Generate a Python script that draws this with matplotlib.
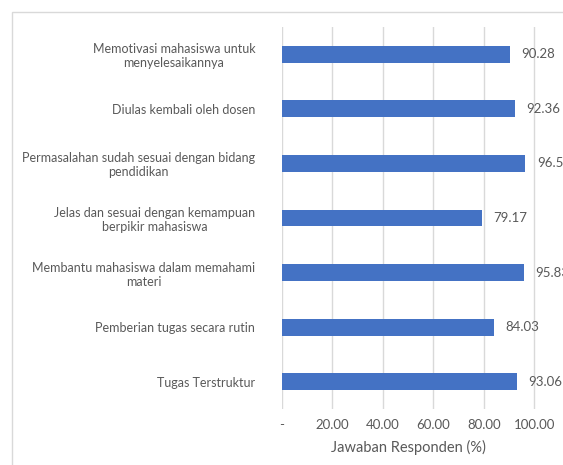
import matplotlib
matplotlib.use("Agg")
import matplotlib.pyplot as plt
from matplotlib.patches import Rectangle

categories = [
    "Memotivasi mahasiswa untuk\nmenyelesaikannya",
    "Diulas kembali oleh dosen",
    "Permasalahan sudah sesuai dengan bidang\npendidikan",
    "Jelas dan sesuai dengan kemampuan\nberpikir mahasiswa",
    "Membantu mahasiswa dalam memahami\nmateri",
    "Pemberian tugas secara rutin",
    "Tugas Terstruktur",
]
values = [90.28, 92.36, 96.53, 79.17, 95.83, 84.03, 93.06]
value_labels = ["90.28", "92.36", "96.53", "79.17", "95.83", "84.03", "93.06"]
tick_values = [0, 20, 40, 60, 80, 100]
tick_labels = ["-", "20.00", "40.00", "60.00", "80.00", "100.00"]
xlabel = "Jawaban Responden (%)"

plt.rcParams['font.family'] = ['Lato', 'DejaVu Sans']
W, H = 563, 465
fig = plt.figure(figsize=(W / 100, H / 100), dpi=100)

# chart frame
fig.patches.append(Rectangle((11.5 / W, -0.1), 1.2, (H - 12.5) / H + 0.1,
                             transform=fig.transFigure, fill=False,
                             edgecolor="#d9d9d9", linewidth=1.0))

left = 281.7 / W
ppu = 2.525
right_px = 281.7 + 120 * ppu
bottom = (H - 409) / H
top = (H - 27) / H
ax = fig.add_axes([left, bottom, (right_px - 281.7) / W, top - bottom])

n = len(categories)
ypos = list(range(n))
ax.barh(ypos, values, height=0.31, color="#4472C4", zorder=3)
ax.set_ylim(n - 0.5, -0.5)
ax.set_xlim(0, 120)
ax.set_yticks(ypos)
ax.set_yticklabels(categories, fontsize=9, color="#595959", multialignment="center")
ax.tick_params(axis="y", length=0, pad=19)
ax.set_xticks(tick_values)
ax.set_xticklabels(tick_labels, fontsize=9.5, color="#595959")
ax.tick_params(axis="x", length=0, pad=7)
ax.set_xticks([120], minor=True)
ax.grid(axis="x", which="both", color="#d9d9d9", linewidth=1.0, zorder=0)
ax.tick_params(axis="x", which="minor", length=0)
for s in ax.spines.values():
    s.set_visible(False)

for y, v, lab in zip(ypos, values, value_labels):
    ax.annotate(lab, (v, y), xytext=(8.5, 0), textcoords="offset points",
                ha="left", va="center", fontsize=9.5, color="#595959",
                annotation_clip=False)

fig.text((281.7 + 50 * ppu) / W, (H - 447) / H, xlabel, ha="center", va="center",
         fontsize=10.5, color="#595959")

fig.savefig("out.png", dpi=100)
